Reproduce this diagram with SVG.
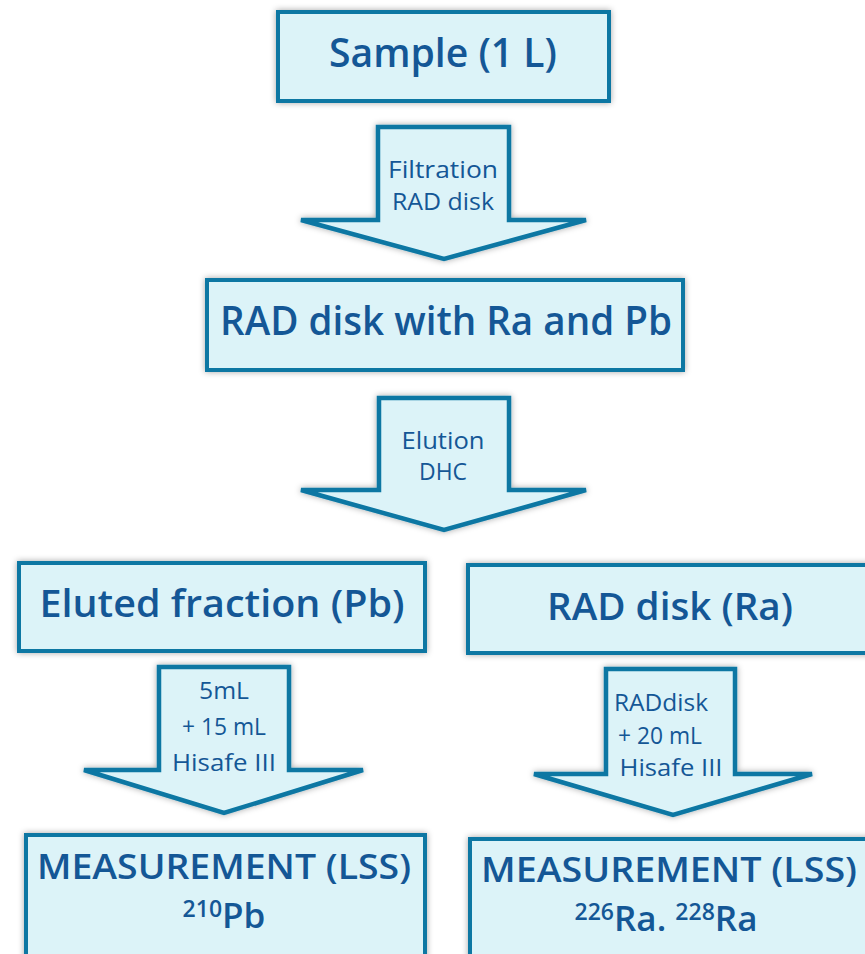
<svg xmlns="http://www.w3.org/2000/svg" width="865" height="954" viewBox="0 0 865 954">
<defs>
<filter id="sh" x="-10%" y="-20%" width="120%" height="140%">
<feDropShadow dx="0" dy="0" stdDeviation="3" flood-color="#000" flood-opacity="0.35"/>
</filter>
<style>
.box{fill:#dcf3f8;stroke:#0a77a3;stroke-width:4;filter:url(#sh)}
.arr{fill:#dcf3f8;stroke:#0a77a3;stroke-width:4.5;stroke-linejoin:miter;filter:url(#sh)}
text{font-family:"Open Sans","Liberation Sans",sans-serif;fill:#145796;text-anchor:middle}
.big{font-size:39px;font-weight:600}
.mid{font-size:38px;font-weight:600}
.ms{font-size:35px;font-weight:600}
.sm{font-size:24px}
.sup{font-size:23px}
</style>
</defs>
<rect width="865" height="954" fill="#ffffff"/>
<g id="connectors">
<g id="arrow1">
<polygon class="arr" points="378,127 509,127 509,220 586,220 444,259 301,220 378,220"/>
<text class="sm" x="443" y="178" textLength="110" lengthAdjust="spacingAndGlyphs">Filtration</text>
<text class="sm" x="443" y="210" textLength="102" lengthAdjust="spacingAndGlyphs">RAD disk</text>
</g>
<g id="arrow2">
<polygon class="arr" points="379,398 509,398 509,490 586,490 444,530 301,490 379,490"/>
<text class="sm" x="443" y="449" textLength="83" lengthAdjust="spacingAndGlyphs">Elution</text>
<text class="sm" x="443" y="480" textLength="48" lengthAdjust="spacingAndGlyphs">DHC</text>
</g>
<g id="arrow3">
<polygon class="arr" points="159,667 289,667 289,770 363,770 224,813 84,770 159,770"/>
<text class="sm" x="224" y="699" textLength="50" lengthAdjust="spacingAndGlyphs">5mL</text>
<text class="sm" x="224" y="735" textLength="84" lengthAdjust="spacingAndGlyphs">+ 15 mL</text>
<text class="sm" x="224" y="771" textLength="104" lengthAdjust="spacingAndGlyphs">Hisafe III</text>
</g>
<g id="arrow4">
<polygon class="arr" points="606,669 735,669 735,774 812,774 673,815 534,774 606,774"/>
<text class="sm" x="661" y="711" textLength="94" lengthAdjust="spacingAndGlyphs">RADdisk</text>
<text class="sm" x="660" y="744" textLength="84" lengthAdjust="spacingAndGlyphs">+ 20 mL</text>
<text class="sm" x="671" y="776" textLength="103" lengthAdjust="spacingAndGlyphs">Hisafe III</text>
</g>
</g>
<g id="sample">
<rect class="box" x="278" y="12" width="331" height="89"/>
<text class="big" x="443" y="67" textLength="228" lengthAdjust="spacingAndGlyphs">Sample (1 L)</text>
</g>
<g id="raddisk-ra-pb">
<rect class="box" x="207" y="280" width="476" height="90"/>
<text class="big" x="446" y="335" textLength="452" lengthAdjust="spacingAndGlyphs">RAD disk with Ra and Pb</text>
</g>
<g id="eluted">
<rect class="box" x="19" y="563" width="406" height="88"/>
<text class="mid" x="222" y="617" textLength="365" lengthAdjust="spacingAndGlyphs">Eluted fraction (Pb)</text>
</g>
<g id="raddisk-ra">
<rect class="box" x="468" y="565" width="402" height="88"/>
<text class="mid" x="670" y="620" textLength="246" lengthAdjust="spacingAndGlyphs">RAD disk (Ra)</text>
</g>
<g id="meas-pb">
<rect class="box" x="26" y="835" width="399" height="130"/>
<text class="ms" x="224" y="879" textLength="374" lengthAdjust="spacingAndGlyphs">MEASUREMENT (LSS)</text>
<text class="ms" x="224" y="928"><tspan class="sup" dy="-11">210</tspan><tspan dy="11">Pb</tspan></text>
</g>
<g id="meas-ra">
<rect class="box" x="470" y="839" width="402" height="130"/>
<text class="ms" x="669" y="882" textLength="376" lengthAdjust="spacingAndGlyphs">MEASUREMENT (LSS)</text>
<text class="ms" x="666" y="931"><tspan class="sup" dy="-11">226</tspan><tspan dy="11">Ra. </tspan><tspan class="sup" dy="-11">228</tspan><tspan dy="11">Ra</tspan></text>
</g>
</svg>
